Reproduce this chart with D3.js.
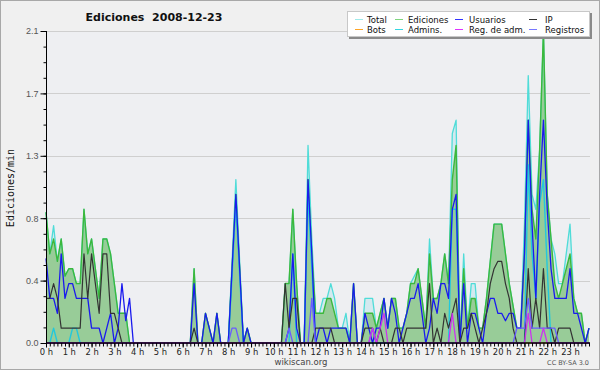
<!DOCTYPE html>
<html><head><meta charset="utf-8">
<script src="https://cdn.jsdelivr.net/npm/d3@7"></script>
<style>html,body{margin:0;padding:0;background:#f0f0f0}svg{display:block}</style>
</head><body><svg id="c" width="600" height="370"></svg>
<script>
// ---- data (10-minute buckets, edits per minute) ----
const hourLabels = d3.range(24).map(h => h + " h");
const yTickLabels = ["0.0","0.4","0.8","1.3","1.7","2.1"];
const total = [
 .88,.6,.79,.55,.7,.45,  .5,.5,.4,.4,.9,.6,  .7,.5,.3,.7,.7,.6,  .4,.2,.2,.2,0,0,
 0,0,0,0,0,0,  0,0,0,0,0,0,  0,0,0,.5,0,0,  .2,.1,0,.2,0,0,
 0,.55,1.1,.55,0,.1,  0,0,0,0,0,0,  0,0,0,.4,.4,.9,  .4,0,0,1.33,.7,.2,
 .2,.3,.3,.4,.3,.1,  .1,.2,0,.4,0,0,  .3,.3,.3,.1,.2,.3,  .1,.3,.3,.1,.1,.2,
 .4,.45,.5,.3,.1,.7,  .3,.3,.4,.6,.4,1.41,  1.5,0,.6,.1,.4,.4,  .1,.1,.3,.55,.8,.8,
 .8,.6,.4,.25,.1,.1,  .8,1.8,1.0,.9,1.3,2.1,  1.0,.7,.6,.4,.4,.6,  .8,.3,.2,.2,0,.1];
const ediciones = [
 .88,.6,.7,.55,.7,.45,  .5,.5,.4,.4,.9,.6,  .7,.5,.3,.7,.7,.6,  .4,.2,.2,.2,0,0,
 0,0,0,0,0,0,  0,0,0,0,0,0,  0,0,0,.5,0,0,  .2,.1,0,.2,0,0,
 0,.5,1.0,.5,0,.1,  0,0,0,0,0,0,  0,0,0,.4,.4,.9,  .4,0,0,1.1,.6,.2,
 .2,.2,.3,.3,.2,.1,  .1,.1,0,.4,0,0,  .2,.2,.2,.1,.2,.3,  .1,.3,.3,.1,.1,.2,
 .4,.4,.5,.3,.1,.6,  .3,.3,.4,.6,.4,1.1,  1.33,0,.5,.1,.3,.3,  .1,.1,.3,.55,.8,.8,
 .8,.6,.4,.25,.1,.1,  .6,1.5,.9,.7,1.3,2.1,  1.0,.7,.4,.3,.4,.5,  .6,.3,.2,.2,0,.1];
const usuarios = [
 .57,.3,.3,.2,.6,.3,  .4,.4,.3,.3,.3,.3,  .1,.1,.1,0,.1,.2,  0,.1,.4,.15,.3,0,
 0,0,0,0,0,0,  0,0,0,0,0,0,  0,0,0,.4,0,0,  .2,.1,0,.2,0,0,
 0,.5,1.0,.5,0,.1,  0,0,0,0,0,0,  0,0,0,0,.1,.6,  .1,0,0,1.1,.6,0,
 .1,.1,0,.1,.1,.1,  .1,.1,0,.4,0,0,  .2,.1,0,.1,.1,.3,  .1,.3,.2,0,.1,.2,
 .3,.3,.4,.2,0,.1,  .3,.2,.4,.4,.3,.9,  1.0,0,.4,0,.2,.2,  .1,0,.2,.3,.3,.2,
 .2,.15,.2,.2,.1,.1,  .6,1.5,.8,.3,1.0,1.5,  .9,.5,.3,.3,.3,.3,  .5,.2,.2,.1,0,.1];
const ip = [
 .3,.3,.4,.3,.1,.1,  .1,.1,.1,.1,.6,.3,  .6,.4,.2,.6,.6,.2,  .2,.1,0,0,0,0,
 0,0,0,0,0,0,  0,0,0,0,0,0,  0,0,0,.1,0,0,  0,0,0,0,0,0,
 0,0,0,0,0,0,  0,0,0,0,0,0,  0,0,0,.4,.1,.3,  .3,0,0,0,0,.1,
 .1,.1,.1,.1,0,0,  0,0,0,0,0,0,  .1,.1,.1,0,.1,0,  0,0,.1,.1,0,.1,
 .1,.1,.1,.1,.1,.4,  0,.1,0,.2,.1,.2,  .3,0,.1,.1,.2,.1,  0,.1,.2,.4,.5,.55,
 .55,.4,.3,.1,0,0,  0,.5,.1,.3,.1,.5,  .1,.1,0,.1,.1,.1,  .1,0,0,0,0,0];
const admins = [
 0,0,.1,0,0,0,  0,.1,.1,0,0,0,  0,0,0,0,0,0,  0,0,0,0,0,0,
 0,0,0,0,0,0,  0,0,0,0,0,0,  0,0,0,0,0,0,  0,0,0,0,0,0,
 0,.45,.95,.45,0,0,  0,0,0,0,0,0,  0,0,0,0,0,.6,  0,0,0,1.0,.5,0,
 0,0,0,0,0,0,  0,0,0,0,0,0,  0,0,0,0,0,0,  0,0,0,0,0,0,
 0,0,0,0,0,0,  0,0,0,0,0,.9,  .9,0,0,0,0,0,  0,0,0,0,0,0,
 0,0,0,0,0,0,  0,1.2,.6,.3,.94,1.1,  .5,0,0,0,0,0,  0,0,0,0,0,0];
const regAdm = [
 0,0,0,0,0,0,  0,0,0,0,0,0,  0,0,0,0,0,0,  0,0,0,0,0,0,
 0,0,0,0,0,0,  0,0,0,0,0,0,  0,0,0,0,0,0,  0,0,0,0,0,0,
 0,0,0,0,0,0,  0,0,0,0,0,0,  0,0,0,0,0,0,  0,0,0,0,0,0,
 0,0,0,0,0,0,  0,0,0,0,0,0,  0,0,.1,0,.1,.2,  0,0,0,0,0,0,
 0,0,0,0,0,0,  0,0,0,0,0,.2,  0,0,0,0,0,0,  0,0,0,0,0,0,
 0,0,0,0,0,0,  0,.2,0,0,0,.1,  0,0,0,0,0,0,  0,0,0,0,0,0];
const registros = [
 0,0,0,0,0,0,  0,0,0,0,0,0,  0,0,0,0,0,0,  0,0,0,0,0,0,
 0,0,0,0,0,0,  0,0,0,0,0,0,  0,0,0,0,0,0,  0,0,0,0,0,0,
 0,.1,.1,0,0,0,  0,0,0,0,0,0,  0,0,0,0,.1,0,  0,0,0,0,.3,0,
 0,0,0,0,0,0,  0,0,0,0,0,0,  0,0,.1,0,0,0,  0,0,0,0,0,0,
 0,0,0,0,0,0,  0,0,0,0,0,0,  0,0,0,0,0,0,  0,0,0,0,0,0,
 0,0,0,0,.1,.1,  .1,.3,.1,.1,.1,.1,  .1,.1,.1,0,0,0,  0,0,0,0,0,0];
const bots = d3.range(144).map(() => 0);

const legendItems = [
 {name:"Total", color:"#9eeaea"}, {name:"Ediciones", color:"#7fd67f"},
 {name:"Usuarios", color:"#3333ff"}, {name:"IP", color:"#333333"},
 {name:"Bots", color:"#ffa526"}, {name:"Admins.", color:"#33d6e0"},
 {name:"Reg. de adm.", color:"#dd33ff"}, {name:"Registros", color:"#7777ff"}];

// ---- drawing ----
const svg = d3.select("#c");
const W = 600, H = 370;
const x = d3.scaleLinear().domain([0, 143]).range([46, 589]);
const y = d3.scaleLinear().domain([0, 2.1]).range([343, 31]);

svg.append("rect").attr("x",0.5).attr("y",0.5).attr("width",W-1).attr("height",H-1)
  .attr("fill","#f0f0f0").attr("stroke","#a8a8a8");
svg.append("rect").attr("x",x(0)).attr("y",y(2.1)).attr("width",x(143)-x(0)+1).attr("height",y(0)-y(2.1))
  .attr("fill","#eeeff2");

const majorVals = d3.range(6).map(k => k * 0.42);
const minorVals = d3.range(21).map(k => k * 0.105);

// grid
svg.append("g").selectAll("line").data(majorVals.slice(1)).join("line")
  .attr("x1", x(0)).attr("x2", 590).attr("y1", d => Math.round(y(d))+0.5).attr("y2", d => Math.round(y(d))+0.5)
  .attr("stroke","#cfcfcf").attr("stroke-width",1);

// series
const idx = d3.range(144);
const lineGen = arr => d3.line().x(i => x(i)).y(i => y(arr[i]))(idx);
const areaGen = arr => d3.area().x(i => x(i)).y0(y(0)).y1(i => y(arr[i]))(idx);

svg.append("path").attr("d", areaGen(total)).attr("fill","#d3e9ef");
svg.append("path").attr("d", areaGen(ediciones)).attr("fill","#98cc98");
const series = [
 {arr: bots, color:"#ffa526", w:1.0},
 {arr: total, color:"#4fdcd8", w:1.3},
 {arr: ediciones, color:"#3cb83c", w:1.4},
 {arr: admins, color:"#22c8dd", w:1.4},
 {arr: usuarios, color:"#1a1aee", w:1.3},
 {arr: ip, color:"#333333", w:1.2},
 {arr: registros, color:"#6a5cff", w:1.3},
 {arr: regAdm, color:"#cc33ee", w:1.3}
];
series.forEach(s => svg.append("path").attr("d", lineGen(s.arr)).attr("fill","none")
  .attr("stroke", s.color).attr("stroke-width", s.w).attr("stroke-linejoin","round"));

// y axis
const yMinor = svg.append("g").attr("transform","translate(46.5,0)")
  .call(d3.axisLeft(y).tickValues(minorVals).tickSize(3).tickFormat(""));
const yMajor = svg.append("g").attr("transform","translate(46.5,0)")
  .call(d3.axisLeft(y).tickValues(majorVals).tickSize(6).tickPadding(2)
    .tickFormat((d, i) => yTickLabels[i]));
[yMinor, yMajor].forEach(g => { g.selectAll("line").attr("stroke","#000"); g.select(".domain").attr("stroke","#000"); });
yMinor.select(".domain").remove();
yMajor.select(".domain").attr("d", `M0,${y(2.1)}V${y(0)}`);
yMajor.selectAll("text").attr("font-family","Liberation Sans, Arial, sans-serif").attr("font-size",9).attr("fill","#555");

// x axis (drawn over the series so zero-valued segments are hidden)
const xMinor = svg.append("g").attr("transform",`translate(0,${y(0)})`)
  .call(d3.axisBottom(x).tickValues(idx).tickSize(3.5).tickFormat(""));
xMinor.select(".domain").attr("d", `M${x(0)},0H${x(143)+1}`).attr("stroke","#000").attr("stroke-width",1.6);
xMinor.selectAll("line").attr("stroke","#000");
const xMajor = svg.append("g").attr("transform",`translate(0,${y(0)})`)
  .call(d3.axisBottom(x).tickValues(d3.range(24).map(h => h*6)).tickSize(4.5).tickPadding(2)
    .tickFormat((d, i) => hourLabels[i]));
xMajor.select(".domain").remove();
xMajor.selectAll("line").attr("stroke","#000");
xMajor.selectAll("text").attr("font-family","DejaVu Sans, sans-serif").attr("font-size",8.4).attr("fill","#222");

// titles
svg.append("text").attr("x",154).attr("y",21).attr("text-anchor","middle")
  .attr("font-family","DejaVu Sans, sans-serif").attr("font-weight","bold").attr("font-size",11)
  .attr("fill","#111").text("Ediciones  2008-12-23").style("white-space","pre");
svg.append("text").attr("transform","translate(13.5,188) rotate(-90)").attr("text-anchor","middle")
  .attr("font-family","DejaVu Sans Mono, monospace").attr("font-size",10).attr("fill","#111").text("Ediciones/min");
svg.append("text").attr("x",301).attr("y",365).attr("text-anchor","middle")
  .attr("font-family","DejaVu Sans, sans-serif").attr("font-size",8.5).attr("fill","#444").text("wikiscan.org");
svg.append("text").attr("x",589).attr("y",365).attr("text-anchor","end")
  .attr("font-family","DejaVu Sans, sans-serif").attr("font-size",6.5).attr("fill","#555").text("CC BY-SA 3.0");

// legend
const lg = svg.append("g");
lg.append("rect").attr("x",349).attr("y",13).attr("width",243).attr("height",26).attr("fill","#8a8a8a");
lg.append("rect").attr("x",347.5).attr("y",11.5).attr("width",242).attr("height",25).attr("fill","#fff").attr("stroke","#c8c8c8");
const colSw = [355, 395, 455, 529], colTx = [367, 408, 469, 545];
const rowY = [19, 29];
legendItems.forEach((d, i) => {
  const c = i % 4, r = Math.floor(i / 4);
  lg.append("line").attr("x1", colSw[c]).attr("x2", colSw[c] + 8).attr("y1", rowY[r] + 0.5).attr("y2", rowY[r] + 0.5)
    .attr("stroke", d.color).attr("stroke-width", 1);
  lg.append("text").attr("x", colTx[c]).attr("y", rowY[r] + 3.5)
    .attr("font-family","DejaVu Sans, sans-serif").attr("font-size",8.5).attr("fill","#111").text(d.name);
});
</script></body></html>
